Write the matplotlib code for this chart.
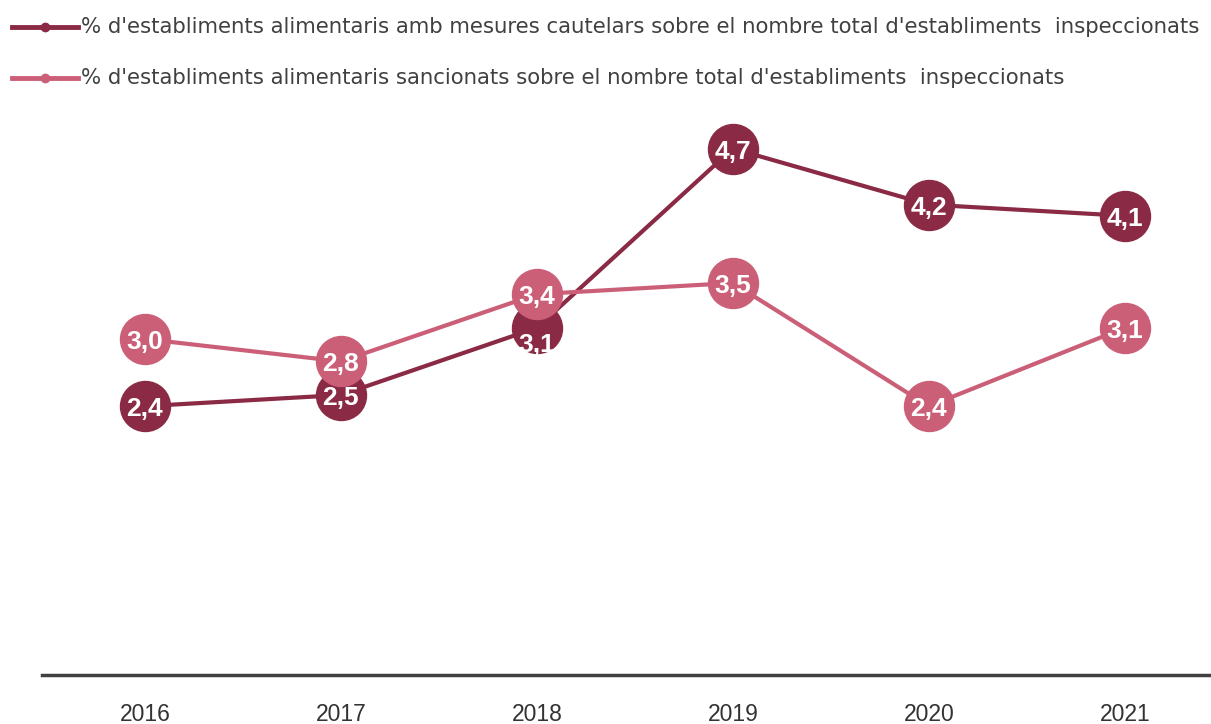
import matplotlib
matplotlib.use("Agg")
import matplotlib.pyplot as plt
from matplotlib.patches import Circle
from matplotlib.transforms import Affine2D, IdentityTransform

plt.rcParams['font.family'] = ['Liberation Sans', 'DejaVu Sans']

years = ["2016", "2017", "2018", "2019", "2020", "2021"]
cautelars = [2.4, 2.5, 3.1, 4.7, 4.2, 4.1]
sancionats = [3.0, 2.8, 3.4, 3.5, 2.4, 3.1]
labels = [
    "% d'establiments alimentaris amb mesures cautelars sobre el nombre total d'establiments  inspeccionats",
    "% d'establiments alimentaris sancionats sobre el nombre total d'establiments  inspeccionats",
]

dark = "#8a2a45"
pink = "#cc5f78"

W, H = 1211, 724
fig = plt.figure(figsize=(W / 100, H / 100), dpi=100)
ax = fig.add_axes([42 / W, 49 / H, 1169 / W, 560 / H])
ax.set_xlim(-0.525, 5.44)
ax.set_ylim(0, 5)

x = list(range(len(years)))
series = [(cautelars, dark), (sancionats, pink)]
z = 2
for k, (vals, col) in enumerate(series):
    ax.plot(x, vals, color=col, lw=3, zorder=z)
    ax.plot(x, vals, 'o', color=col, ms=36, zorder=z + 1)
    for xi, v in zip(x, vals):
        dy = -3
        # the 2018 label of the first series sits lower and is cut by its circle
        low = (k == 0 and xi == 2)
        if low:
            dy = -17
        px, py = ax.transData.transform((xi, v))
        t = ax.text(px, py + dy, f"{v:.1f}".replace(".", ","), color="white",
                    fontsize=19, fontweight="bold", ha="center", va="center",
                    zorder=z + 2, transform=IdentityTransform())
        if low:
            clip = Circle((0, 0), 25, transform=Affine2D().translate(px, py))
            t.set_clip_path(clip)
    z += 3

ax.set_xticks(x)
ax.set_xticklabels(years, fontsize=16.5, color="#333333")
ax.tick_params(axis="x", length=0, pad=20)
ax.set_yticks([])
for s in ["top", "right", "left"]:
    ax.spines[s].set_visible(False)
ax.spines["bottom"].set_color("#404040")
ax.spines["bottom"].set_linewidth(2.5)

# legend
for i, (lab, (vals, col)) in enumerate(zip(labels, series)):
    yy = 1 - (27 + 51 * i) / H
    fig.lines.append(plt.Line2D([12 / W, 78 / W], [yy, yy], color=col, lw=3.5,
                                transform=fig.transFigure))
    fig.lines.append(plt.Line2D([45 / W], [yy], marker="o", ms=6, color=col,
                                transform=fig.transFigure))
    fig.text(81 / W, yy, lab, fontsize=15.3, color="#404040", va="center", ha="left",
             family=["DejaVu Sans"])

fig.savefig("out.png", dpi=100)
